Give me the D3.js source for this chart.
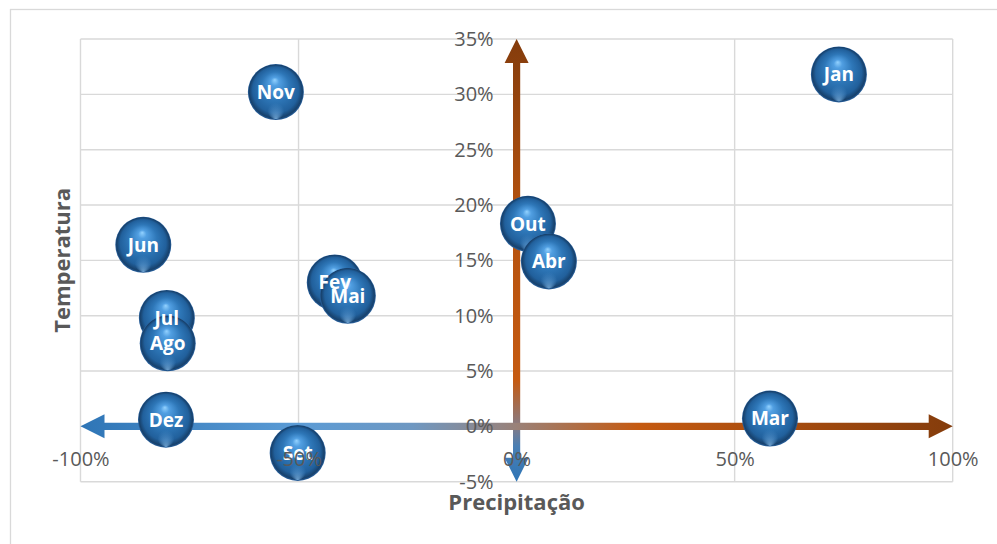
<!DOCTYPE html>
<html>
<head>
<meta charset="utf-8">
<script src="https://cdn.jsdelivr.net/npm/d3@7/dist/d3.min.js"></script>
<style>
  html, body { margin: 0; padding: 0; background: #fff; }
  svg { display: block; }
</style>
</head>
<body>
<div id="chart"></div>
<script>
// Months, listed in hydrological-year order (Oct → Sep)
const months = ["Out", "Nov", "Dez", "Jan", "Fev", "Mar", "Abr", "Mai", "Jun", "Jul", "Ago", "Set"];
// Precipitation anomaly (x) and temperature anomaly (y), as fractions
const precipitacao = [0.026, -0.552, -0.804, 0.739, -0.417, 0.581, 0.074, -0.387, -0.856, -0.802, -0.800, -0.502];
const temperatura  = [0.183, 0.302, 0.006, 0.318, 0.130, 0.007, 0.149, 0.118, 0.164, 0.098, 0.075, -0.024];
// Bubble sizes (all equal)
const tamanhos = [1, 1, 1, 1, 1, 1, 1, 1, 1, 1, 1, 1];

const xTicks = [-1, -0.5, 0, 0.5, 1];
const yTicks = [-0.05, 0, 0.05, 0.10, 0.15, 0.20, 0.25, 0.30, 0.35];

const W = 997, H = 544;
const font = "'Open Sans', 'Liberation Sans', sans-serif";
const grey = "#595959";
const gridColor = "#d9d9d9";

const svg = d3.select("#chart").append("svg")
  .attr("width", W).attr("height", H);

const x = d3.scaleLinear().domain([-1, 1]).range([80.5, 952.7]);
const y = d3.scaleLinear().domain([-0.05, 0.35]).range([481.7, 39]);
const r = d3.scaleSqrt().domain([0, 1]).range([0, 28]);
// Percent format with a plain hyphen for negatives
const pct = d3.formatLocale({ decimal: ",", thousands: ".", grouping: [3], currency: ["", ""], minus: "-" }).format(".0%");

const defs = svg.append("defs");

// Chart-area frame
svg.append("rect")
  .attr("x", 10.5).attr("y", 9.5)
  .attr("width", 1100).attr("height", 700)
  .attr("fill", "none").attr("stroke", gridColor).attr("stroke-width", 1.3);

// Gridlines
const grid = svg.append("g");
grid.selectAll("line.v").data(xTicks).join("line")
  .attr("x1", d => x(d)).attr("x2", d => x(d))
  .attr("y1", y(0.35)).attr("y2", y(-0.05))
  .attr("stroke", gridColor).attr("stroke-width", 1.4);
grid.selectAll("line.h").data(yTicks).join("line")
  .attr("y1", d => y(d)).attr("y2", d => y(d))
  .attr("x1", x(-1)).attr("x2", x(1))
  .attr("stroke", gridColor).attr("stroke-width", 1.4);

// Arrow gradients
const gH = defs.append("linearGradient").attr("id", "gradH")
  .attr("gradientUnits", "userSpaceOnUse")
  .attr("x1", x(-1)).attr("x2", x(1)).attr("y1", 0).attr("y2", 0);
[[0, "#2e75b6"], [0.25, "#5b9bd5"], [0.38, "#6f98c2"], [0.5, "#9a8178"], [0.64, "#c55a11"], [1, "#843c0c"]]
  .forEach(([o, c]) => gH.append("stop").attr("offset", o).attr("stop-color", c));

const gV = defs.append("linearGradient").attr("id", "gradV")
  .attr("gradientUnits", "userSpaceOnUse")
  .attr("x1", 0).attr("x2", 0).attr("y1", y(-0.05)).attr("y2", y(0.35));
[[0, "#2e75b6"], [0.08, "#4a7fb4"], [0.13, "#8a7a80"], [0.23, "#c55a11"], [0.6, "#b4520f"], [1, "#843c0c"]]
  .forEach(([o, c]) => gV.append("stop").attr("offset", o).attr("stop-color", c));

// Double-headed arrows along the zero lines
const sw = 3.6, hh = 12, hl = 24;
function arrowH(x0, x1, yc) {
  return `M${x0},${yc} L${x0 + hl},${yc - hh} L${x0 + hl},${yc - sw} L${x1 - hl},${yc - sw} L${x1 - hl},${yc - hh}
          L${x1},${yc} L${x1 - hl},${yc + hh} L${x1 - hl},${yc + sw} L${x0 + hl},${yc + sw} L${x0 + hl},${yc + hh} Z`;
}
function arrowV(y0, y1, xc) { // y0 bottom, y1 top
  return `M${xc},${y0} L${xc - hh},${y0 - hl} L${xc - sw},${y0 - hl} L${xc - sw},${y1 + hl} L${xc - hh},${y1 + hl}
          L${xc},${y1} L${xc + hh},${y1 + hl} L${xc + sw},${y1 + hl} L${xc + sw},${y0 - hl} L${xc + hh},${y0 - hl} Z`;
}
svg.append("path").attr("d", arrowV(y(-0.05), y(0.35), x(0))).attr("fill", "url(#gradV)");
svg.append("path").attr("d", arrowH(x(-1), x(1), y(0))).attr("fill", "url(#gradH)");

// Sphere shading for the bubbles
const gB = defs.append("radialGradient").attr("id", "sphere")
  .attr("cx", "50%").attr("cy", "50%").attr("r", "50%")
  .attr("fx", "48%").attr("fy", "28%");
[[0, "#93d2ff"], [0.15, "#519fe2"], [0.5, "#2e77b8"], [0.82, "#21609c"], [0.95, "#17416c"], [1, "#2b64a2"]]
  .forEach(([o, c]) => gB.append("stop").attr("offset", o).attr("stop-color", c));
const gR = defs.append("radialGradient").attr("id", "rim")
  .attr("cx", "50%").attr("cy", "50%").attr("r", "50%")
  .attr("fx", "50%").attr("fy", "98%");
[[0, "#86bdec", 0.75], [0.3, "#5b9bd5", 0.0], [1, "#5b9bd5", 0]]
  .forEach(([o, c, a]) => gR.append("stop").attr("offset", o).attr("stop-color", c).attr("stop-opacity", a));

const data = months.map((m, i) => ({ m, px: precipitacao[i], t: temperatura[i], s: tamanhos[i] }));

const bubbles = svg.append("g");
const b = bubbles.selectAll("g").data(data).join("g")
  .attr("transform", d => `translate(${x(d.px)},${y(d.t)})`);
b.append("circle").attr("r", d => r(d.s)).attr("fill", "url(#sphere)");
b.append("circle").attr("r", d => r(d.s)).attr("fill", "url(#rim)");

// Bubble labels
svg.append("g").selectAll("text").data(data).join("text")
  .attr("x", d => x(d.px)).attr("y", d => y(d.t))
  .attr("dy", "0.36em")
  .attr("text-anchor", "middle")
  .attr("fill", "#fff")
  .style("font-family", font).style("font-weight", "bold").style("font-size", "19px")
  .text(d => d.m);

// Axes: tick labels sit next to the zero lines, above the bubbles
const yAxis = d3.axisLeft(y).tickValues(yTicks).tickFormat(pct).tickSize(0).tickPadding(23);
const xAxis = d3.axisBottom(x).tickValues(xTicks).tickFormat(pct).tickSize(0).tickPadding(25);

svg.append("g").attr("transform", `translate(${x(0)},0)`).call(yAxis)
  .call(g => g.select(".domain").remove())
  .selectAll("text").attr("fill", grey).style("font-family", font).style("font-size", "20px");
svg.append("g").attr("transform", `translate(0,${y(0)})`).call(xAxis)
  .call(g => g.select(".domain").remove())
  .selectAll("text").attr("fill", grey).style("font-family", font).style("font-size", "20px");

// Axis titles
svg.append("text")
  .attr("x", (x(-1) + x(1)) / 2).attr("y", 510)
  .attr("text-anchor", "middle")
  .attr("fill", grey)
  .style("font-family", font).style("font-weight", "bold").style("font-size", "22px")
  .text("Precipitação");
svg.append("text")
  .attr("transform", `translate(70,${(y(-0.05) + y(0.35)) / 2}) rotate(-90)`)
  .attr("text-anchor", "middle")
  .attr("fill", grey)
  .style("font-family", font).style("font-weight", "bold").style("font-size", "22px")
  .text("Temperatura");
</script>
</body>
</html>
